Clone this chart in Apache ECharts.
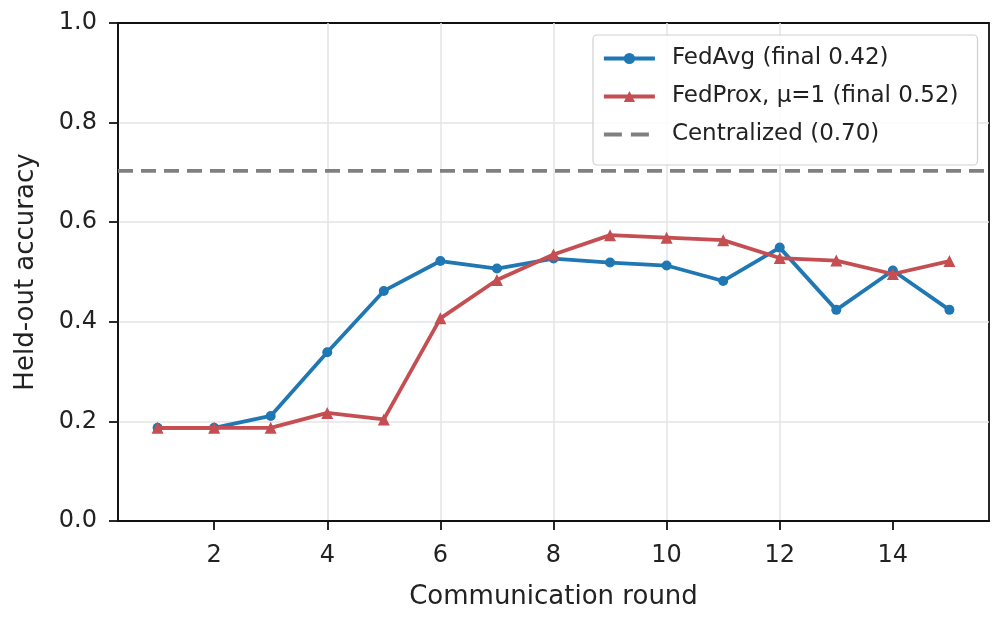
<!DOCTYPE html>
<html>
<head>
<meta charset="utf-8">
<script src="https://cdn.jsdelivr.net/npm/echarts@6/dist/echarts.min.js"></script>
<style>
  html, body { margin: 0; padding: 0; background: #fff; }
  #chart { width: 1005px; height: 620px; }
</style>
</head>
<body>
<div id="chart"></div>
<script>
// data
var rounds = [1, 2, 3, 4, 5, 6, 7, 8, 9, 10, 11, 12, 13, 14, 15];
var fedAvg = [0.187, 0.187, 0.211, 0.339, 0.462, 0.522, 0.507, 0.527, 0.519, 0.513, 0.482, 0.549, 0.424, 0.503, 0.424];
var fedProx = [0.187, 0.187, 0.187, 0.217, 0.204, 0.407, 0.484, 0.535, 0.574, 0.569, 0.564, 0.528, 0.523, 0.496, 0.522];
var centralized = 0.703;
var xTicks = [2, 4, 6, 8, 10, 12, 14];
var yTicks = [0, 0.2, 0.4, 0.6, 0.8, 1.0];
var xRange = [0.3, 15.7];

var names = ['FedAvg (final 0.42)', 'FedProx, \u03bc=1 (final 0.52)', 'Centralized (0.70)'];
var colors = ['#1f77b4', '#c44e52', '#808080'];
var font = 'DejaVu Sans';

function pairs(xs, ys) {
    var out = [];
    for (var i = 0; i < xs.length; i++) out.push([xs[i], ys[i]]);
    return out;
}

var chart = echarts.init(document.getElementById('chart'));

var splitStyle = { show: true, showMinLine: false, showMaxLine: false, lineStyle: { color: '#e4e4e4', width: 1.5 } };
var tickStyle = { color: '#111', width: 1.8 };

var option = {
    animation: false,
    backgroundColor: '#fff',
    textStyle: { fontFamily: font },
    grid: {
        left: 118, right: 16, top: 23, bottom: 99,
        show: true, borderColor: '#111', borderWidth: 1.8,
        outerBoundsMode: 'none'
    },
    legend: {
        orient: 'vertical',
        left: 593, top: 35,
        itemWidth: 51, itemHeight: 14, itemGap: 15,
        padding: [12, 19, 19, 9],
        borderColor: '#d0d0d0', borderWidth: 1.2, borderRadius: 4,
        backgroundColor: 'rgba(255,255,255,0.85)',
        textStyle: { fontFamily: font, fontSize: 23, color: '#222', padding: [0, 0, 0, 12] },
        data: [
            { name: names[0], lineStyle: { width: 3.8 } },
            { name: names[1], lineStyle: { width: 3.8 } },
            { name: names[2], lineStyle: { width: 3.8, type: [18, 9] }, itemStyle: { opacity: 0 } }
        ]
    },
    xAxis: {
        type: 'value',
        min: xRange[0], max: xRange[1],
        name: 'Communication round',
        nameLocation: 'middle', nameGap: 63,
        nameTextStyle: { fontFamily: font, fontSize: 26, color: '#222' },
        axisLine: { show: true, onZero: false, lineStyle: tickStyle },
        axisTick: { show: true, customValues: xTicks, length: 9, lineStyle: tickStyle },
        axisLabel: { customValues: xTicks, margin: 23, fontFamily: font, fontSize: 24, color: '#222' },
        splitLine: splitStyle
    },
    yAxis: {
        type: 'value',
        min: 0, max: 1,
        name: 'Held-out accuracy',
        nameLocation: 'middle', nameGap: 79,
        nameTextStyle: { fontFamily: font, fontSize: 26, color: '#222' },
        axisLine: { show: true, onZero: false, lineStyle: tickStyle },
        axisTick: { show: true, customValues: yTicks, length: 9, lineStyle: tickStyle },
        axisLabel: {
            customValues: yTicks, margin: 21, fontFamily: font, fontSize: 24, color: '#222',
            formatter: function (v) { return v.toFixed(1); }
        },
        splitLine: splitStyle
    },
    series: [{
        name: names[0],
        type: 'line',
        data: pairs(rounds, fedAvg),
        symbol: 'circle', symbolSize: 10,
        lineStyle: { color: colors[0], width: 3.8 },
        itemStyle: { color: colors[0] },
        z: 3
    }, {
        name: names[1],
        type: 'line',
        data: pairs(rounds, fedProx),
        symbol: 'triangle', symbolSize: 12,
        lineStyle: { color: colors[1], width: 3.8 },
        itemStyle: { color: colors[1] },
        z: 4
    }, {
        name: names[2],
        type: 'line',
        data: pairs(xRange, [centralized, centralized]),
        symbol: 'none',
        lineStyle: { color: colors[2], width: 3.6, type: [15, 8] },
        itemStyle: { color: colors[2] },
        z: 2
    }]
};

chart.setOption(option);
</script>
</body>
</html>
